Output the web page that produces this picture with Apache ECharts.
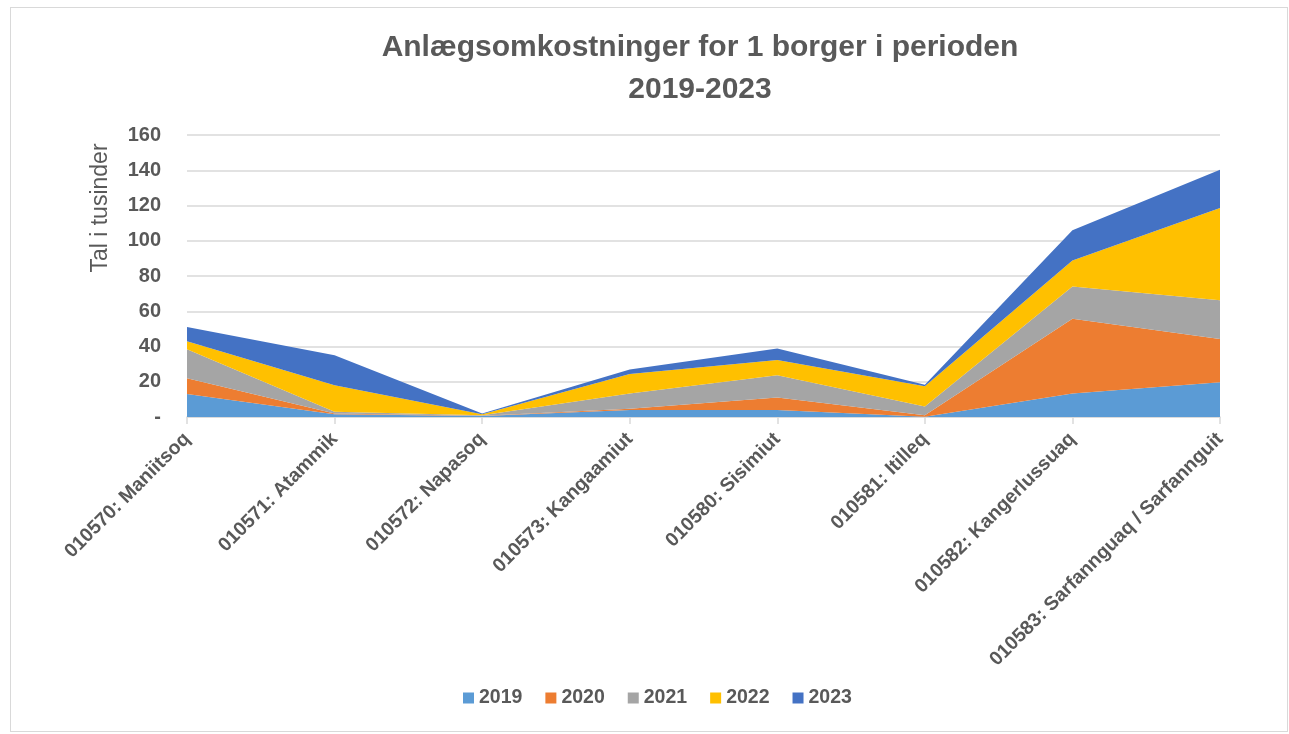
<!DOCTYPE html>
<html>
<head>
<meta charset="utf-8">
<script src="https://cdn.jsdelivr.net/npm/echarts@6/dist/echarts.min.js"></script>
<style>
  html, body { margin: 0; padding: 0; background: #fff; }
  #frame { position: absolute; left: 10px; top: 7px; width: 1276px; height: 723px; border: 1px solid #d9d9d9; }
  #chart { position: absolute; left: 0; top: 0; width: 1289px; height: 734px; }
</style>
</head>
<body>
<div id="frame"></div>
<div id="chart"></div>
<script>
// categories (bygder)
var places = ['010570: Maniitsoq', '010571: Atammik', '010572: Napasoq', '010573: Kangaamiut',
  '010580: Sisimiut', '010581: Itilleq', '010582: Kangerlussuaq', '010583: Sarfannguaq / Sarfannguit'];

// values per year, in thousands
var y2019 = [13, 1.5, 0.5, 4, 4, 0.2, 13.4, 19.7];
var y2020 = [9, 0.5, 0.2, 0.7, 7, 0.8, 42.3, 24.6];
var y2021 = [16.5, 1, 0.3, 8.7, 12.7, 5, 18.3, 22];
var y2022 = [4.5, 15, 0.5, 11, 8.7, 11.5, 14.8, 52.3];
var y2023 = [8, 17, 0.5, 2.6, 6.4, 0.8, 17.2, 21.7];

var years = ['2019', '2020', '2021', '2022', '2023'];
var colors = ['#5B9BD5', '#ED7D31', '#A5A5A5', '#FFC000', '#4472C4'];
var font = 'Liberation Sans';

var myChart = echarts.init(document.getElementById('chart'));

function area(name, data, color) {
  return {
    name: name,
    type: 'line',
    stack: 'total',
    data: data,
    symbol: 'none',
    lineStyle: { width: 0 },
    areaStyle: { color: color, opacity: 1 },
    itemStyle: { color: color }
  };
}

var option = {
  animation: false,
  title: {
    text: 'Anlægsomkostninger for 1 borger i perioden\n2019-2023',
    left: 695,
    top: 22,
    textAlign: 'center',
    textStyle: { fontFamily: font, fontSize: 30, fontWeight: 'bold', color: '#595959', lineHeight: 42 }
  },
  legend: {
    bottom: 21,
    left: 458,
    itemWidth: 11,
    itemHeight: 11,
    itemGap: 23,
    icon: 'rect',
    textStyle: { fontFamily: font, fontSize: 19.5, fontWeight: 'bold', color: '#595959' },
    data: years
  },
  grid: { left: 187, right: 69, top: 135, bottom: 317 },
  xAxis: {
    type: 'category',
    boundaryGap: false,
    data: places,
    axisLine: { lineStyle: { color: '#d9d9d9', width: 1.5 } },
    axisTick: { show: true, alignWithLabel: true, length: 7, lineStyle: { color: '#d9d9d9', width: 1.5 } },
    axisLabel: { rotate: 45, interval: 0, margin: 19, fontFamily: font, fontSize: 19.5, fontWeight: 'bold', color: '#595959' }
  },
  yAxis: {
    type: 'value',
    min: 0,
    max: 160,
    interval: 20,
    axisLine: { show: false },
    axisTick: { show: false },
    splitLine: { lineStyle: { color: '#d9d9d9', width: 1.5 } },
    axisLabel: {
      margin: 26,
      fontFamily: font, fontSize: 20, fontWeight: 'bold', color: '#595959',
      formatter: function (v) { return v === 0 ? '-' : v; }
    }
  },
  graphic: [{
    type: 'text',
    x: 101,
    y: 208,
    rotation: Math.PI / 2,
    style: {
      text: 'Tal i tusinder',
      fontFamily: font, fontSize: 23, fill: '#595959',
      align: 'center', verticalAlign: 'middle'
    }
  }],
  series: [
    area('2019', y2019, colors[0]),
    area('2020', y2020, colors[1]),
    area('2021', y2021, colors[2]),
    area('2022', y2022, colors[3]),
    area('2023', y2023, colors[4])
  ]
};

myChart.setOption(option);
</script>
</body>
</html>
